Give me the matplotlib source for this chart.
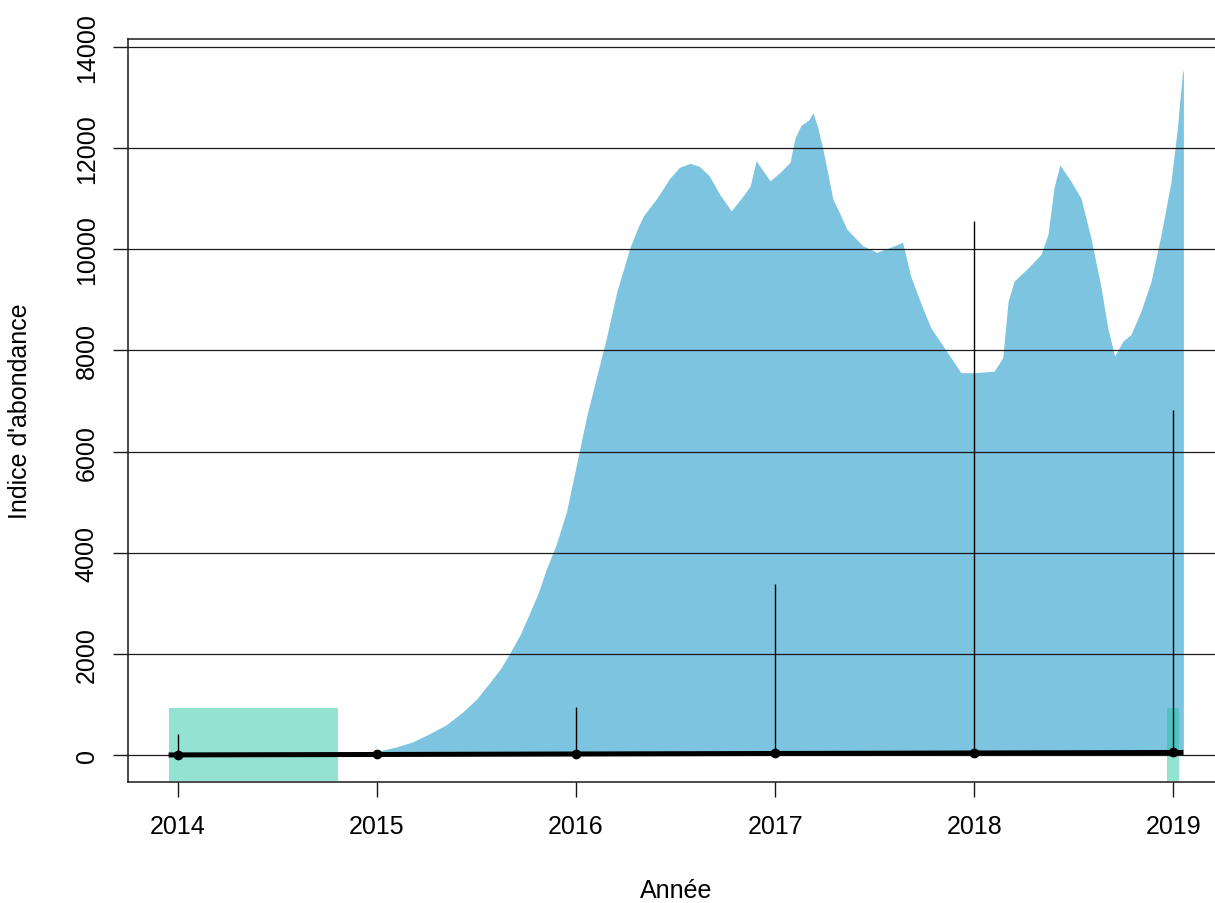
import numpy as np
import matplotlib
matplotlib.use("Agg")
import matplotlib.pyplot as plt

plt.rcParams['font.family'] = ['Liberation Sans', 'DejaVu Sans']

# courbe d'abondance (zone bleue)
curve_x = [2014.76, 2014.85, 2014.93, 2015.0, 2015.1, 2015.18, 2015.26, 2015.35, 2015.43,
           2015.5, 2015.565, 2015.62, 2015.666, 2015.72, 2015.767, 2015.81, 2015.85, 2015.90,
           2015.953, 2016.0, 2016.054, 2016.105, 2016.155, 2016.205, 2016.24, 2016.27,
           2016.31, 2016.34, 2016.405, 2016.47, 2016.52, 2016.573,
           2016.62, 2016.67, 2016.72, 2016.78, 2016.84, 2016.875, 2016.905, 2016.94,
           2016.975, 2017.025, 2017.075, 2017.10, 2017.13, 2017.17, 2017.19, 2017.215,
           2017.24, 2017.29, 2017.33, 2017.36, 2017.44, 2017.51, 2017.58, 2017.64,
           2017.68, 2017.73, 2017.782, 2017.85, 2017.933, 2018.0, 2018.10, 2018.143,
           2018.17, 2018.2, 2018.27, 2018.335, 2018.37, 2018.40, 2018.43, 2018.486,
           2018.536, 2018.586, 2018.637, 2018.67, 2018.705, 2018.746, 2018.787, 2018.837,
           2018.888, 2018.938, 2018.988, 2019.02, 2019.045, 2019.05]
curve_y = [0, 15, 35, 70, 160, 260, 410, 600, 845,
           1100, 1420, 1700, 2000, 2380, 2800, 3200, 3660, 4150,
           4820, 5690, 6700, 7500, 8280, 9160, 9620, 10020,
           10420, 10670, 11000, 11400, 11620, 11700,
           11640, 11450, 11100, 10760, 11060, 11250, 11750, 11550,
           11355, 11520, 11720, 12200, 12450, 12560, 12700, 12400,
           11980, 10995, 10665, 10400, 10070, 9940, 10040, 10140,
           9480, 8950, 8447, 8050, 7560, 7560, 7590, 7855,
           8970, 9370, 9630, 9900, 10290, 11210, 11670, 11340,
           11010, 10220, 9240, 8450, 7890, 8180, 8315, 8775,
           9370, 10290, 11340, 12395, 13480, 13550]

# ligne moyenne
line_x = [2013.955, 2014, 2015, 2016, 2017, 2018, 2019, 2019.05]
line_y = [0, 2, 10, 20, 30, 40, 50, 50]

# points annuels et barres d'erreur
years = [2014, 2015, 2016, 2017, 2018, 2019]
means = [2, 10, 20, 30, 40, 50]
upper = [415, 15, 943, 3380, 10560, 6820]

# periodes (rectangles verts)
green_start = [2013.955, 2018.97]
green_end = [2014.806, 2019.03]
green_low = -510
green_high = 930

yticks = [0, 2000, 4000, 6000, 8000, 10000, 12000, 14000]

fig = plt.figure(figsize=(12.15, 9.04), dpi=100)
ax = fig.add_axes([128/1215, (904-783)/904, (1224-128)/1215, (783-39.5)/904])

ax.fill_between(curve_x, 0, curve_y, color='#7DC4E0', lw=0, zorder=1)
for s, e in zip(green_start, green_end):
    ax.fill_between([s, e], green_low, green_high, color='#20C3A0', alpha=0.48, lw=0, zorder=2)

for yv in yticks:
    ax.axhline(yv, color='#1a1a1a', lw=0.9, zorder=3)

ax.vlines(years, means, upper, color='black', lw=1.0, zorder=4)
ax.plot(line_x, line_y, color='black', lw=3.6, zorder=5, solid_capstyle='butt')
ax.plot(years, means, 'o', color='black', ms=6, zorder=6)

ax.set_xlim(2013.751, 2019.254)
ax.set_ylim(-534, 14168)
ax.set_xticks(years)
ax.set_xticklabels([str(y) for y in years])
ax.set_yticks(yticks)
ax.set_yticklabels([str(y) for y in yticks], rotation=90, va='center')

ax.tick_params(axis='both', labelsize=18, length=11, width=1.0, color='#1a1a1a', direction='out')
ax.tick_params(axis='x', pad=12)
ax.tick_params(axis='y', pad=10)
for sp in ax.spines.values():
    sp.set_linewidth(1.1)
    sp.set_color('#1a1a1a')

ax.text(0.5, (783-891)/743.5, 'Année', transform=ax.transAxes, ha='center', va='center', fontsize=18)
ax.text((20-128)/1096, 0.5, "Indice d'abondance", transform=ax.transAxes, ha='center', va='center',
        rotation=90, fontsize=18)

fig.savefig('out.png', dpi=100)
